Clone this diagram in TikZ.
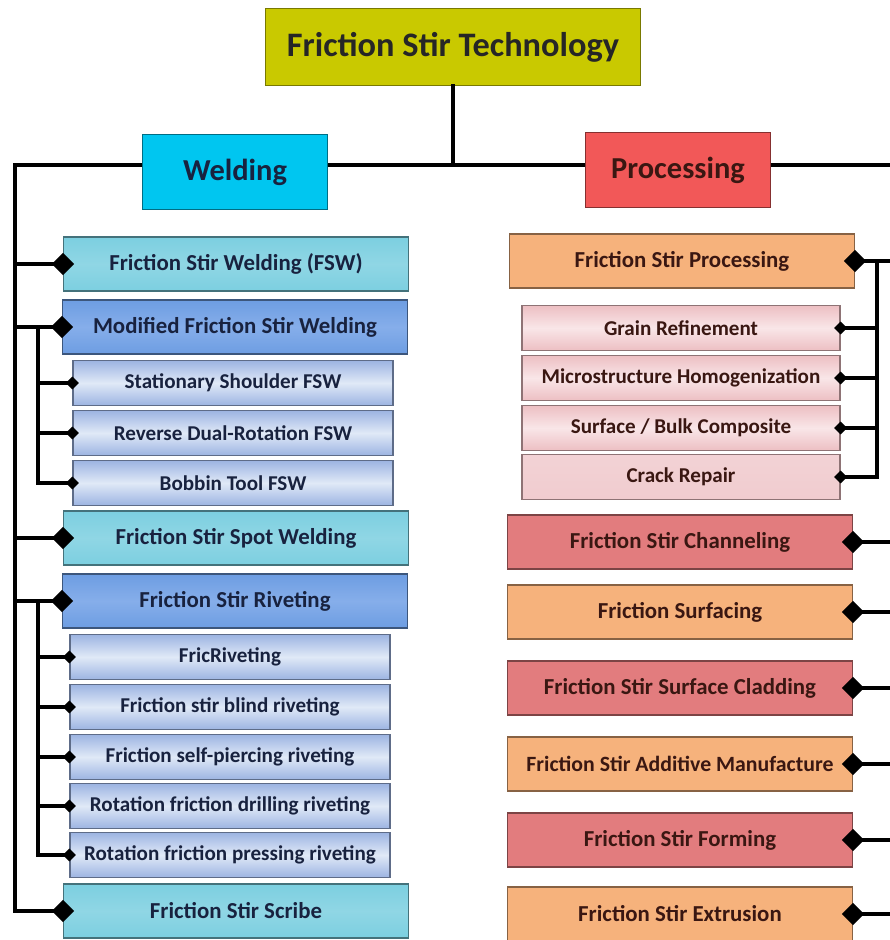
\documentclass[tikz,border=0pt]{standalone}
\usepackage{fontspec}
\setmainfont{Carlito}
\usepackage{tikz}
\usetikzlibrary{positioning,arrows.meta,shadows}

\definecolor{titlefill}{HTML}{C9C900}
\definecolor{weldfill}{HTML}{00C6F0}
\definecolor{procfill}{HTML}{F25858}
\definecolor{cyanfill}{HTML}{7CCFE0}
\definecolor{bluefill}{HTML}{6D9DE2}
\definecolor{bluelight}{HTML}{86AEEA}
\definecolor{subblue}{HTML}{9DB4E2}
\definecolor{subbluelight}{HTML}{E0E9F7}
\definecolor{orangefill}{HTML}{F6B27C}
\definecolor{redfill}{HTML}{E27C7E}
\definecolor{pinkfill}{HTML}{EDBFC3}
\definecolor{pinklight}{HTML}{F9E6E8}
\definecolor{navytext}{HTML}{18223F}
\definecolor{browntext}{HTML}{3A1712}

\begin{document}
\begin{tikzpicture}[x=0.03cm,y=-0.03cm,font=\bfseries]
\tikzstyle{box}=[rectangle,draw,line width=1pt,inner sep=0pt,align=center,drop shadow={shadow xshift=.8pt,shadow yshift=-.8pt,opacity=.35}]
\tikzstyle{top box}=[box,fill=titlefill,draw=titlefill!60!black,text=black!85,minimum width=11.25cm,minimum height=2.3cm,font=\bfseries\fontsize{29.3}{32}\selectfont]
\tikzstyle{head box}=[box,minimum width=5.55cm,minimum height=2.25cm,font=\bfseries\fontsize{26}{28}\selectfont]
\tikzstyle{item}=[box,minimum width=10.35cm,minimum height=1.62cm,font=\bfseries\fontsize{19.5}{22}\selectfont]
\tikzstyle{sub item}=[box,minimum width=9.6cm,minimum height=1.35cm,font=\bfseries\fontsize{18}{20}\selectfont]
\tikzstyle{cyan item}=[item,top color=cyanfill,bottom color=cyanfill,middle color=cyanfill!85!white,draw=cyanfill!55!black,text=navytext]
\tikzstyle{blue item}=[item,top color=bluefill,bottom color=bluefill,middle color=bluelight,draw=bluefill!55!black,text=navytext]
\tikzstyle{blue sub}=[sub item,top color=subblue,bottom color=subblue,middle color=subbluelight,draw=subblue!60!black,text=navytext]
\tikzstyle{orange item}=[item,fill=orangefill,draw=orangefill!55!black,text=browntext]
\tikzstyle{red item}=[item,fill=redfill,draw=redfill!55!black,text=browntext]
\tikzstyle{pink sub}=[sub item,minimum width=9.54cm,top color=pinkfill,bottom color=pinkfill,middle color=pinklight,draw=pinkfill!60!black,text=browntext]
\tikzstyle{bar}=[line width=3.2pt,line cap=rect]
\tikzstyle{link}=[line width=3.2pt,-{Diamond[length=19pt,width=19pt]},shorten >=-9.5pt]
\tikzstyle{sublink}=[line width=3.2pt,-{Diamond[length=11pt,width=11pt]},shorten >=-5.5pt]
\useasboundingbox (0,0) rectangle (890,940);
\coordinate (lspine) at (15,165);
\coordinate (rspine) at (890,165);
\coordinate (lsub) at (38,165);
\coordinate (rsub) at (877,165);
\draw[bar] (rspine) -- (lspine);
% main boxes
\node[top box] (title) at (453,47) {Friction Stir Technology};
\node[head box,fill=weldfill,draw=weldfill!55!black,text=navytext] (weld) at (235,172) {Welding};
\node[head box,fill=procfill,draw=procfill!55!black,text=browntext] (proc) at (678,170) {Processing};
% welding side
\node[cyan item] (fsw) at (236,264) {Friction Stir Welding (FSW)};
\node[blue item] (mfsw) at (235,327) {Modified Friction Stir Welding};
\node[blue sub] (ssfsw) at (233,383) {Stationary Shoulder FSW};
\node[blue sub] (rdrfsw) at (233,433) {Reverse Dual-Rotation FSW};
\node[blue sub] (btfsw) at (233,483) {Bobbin Tool FSW};
\node[cyan item] (fssw) at (236,538) {Friction Stir Spot Welding};
\node[blue item] (fsr) at (235,601) {Friction Stir Riveting};
\node[blue sub] (fricr) at (230,657) {FricRiveting};
\node[blue sub] (fsbr) at (230,707) {Friction stir blind riveting};
\node[blue sub] (fspr) at (230,757) {Friction self-piercing riveting};
\node[blue sub] (rfdr) at (230,806) {Rotation friction drilling riveting};
\node[blue sub] (rfpr) at (230,855) {Rotation friction pressing riveting};
\node[cyan item] (fss) at (236,911) {Friction Stir Scribe};
% processing side
\node[orange item] (fsp) at (682,261) {Friction Stir Processing};
\node[pink sub] (gr) at (681,328) {Grain Refinement};
\node[pink sub] (mh) at (681,378) {Microstructure Homogenization};
\node[pink sub] (sbc) at (681,428) {Surface / Bulk Composite};
\node[pink sub,middle color=pinklight!60!white,top color=pinkfill!70!white,bottom color=pinkfill!80!white] (cr) at (681,477) {Crack Repair};
\node[red item] (fsc) at (680,542) {Friction Stir Channeling};
\node[orange item] (fsurf) at (680,612) {Friction Surfacing};
\node[red item] (fscl) at (680,688) {Friction Stir Surface Cladding};
\node[orange item,font=\bfseries\fontsize{18.6}{22}\selectfont] (fsam) at (680,764) {Friction Stir Additive Manufacture};
\node[red item] (fsf) at (680,840) {Friction Stir Forming};
\node[orange item] (fse) at (680,914) {Friction Stir Extrusion};
% connectors
\draw[bar] (title.south) -- (title.south |- lspine);
\draw[bar] (lspine) -- (lspine |- fss.west);
\draw[bar] (lsub |- mfsw.west) -- (lsub |- btfsw.west);
\draw[bar] (lsub |- fsr.west) -- (lsub |- rfpr.west);
\draw[bar] (rsub |- fsp.east) -- (rsub |- cr.east);
\draw[link] (lspine |- fsw.west) -- (fsw.west);
\draw[link] (lspine |- mfsw.west) -- (mfsw.west);
\draw[sublink] (lsub |- ssfsw.west) -- (ssfsw.west);
\draw[sublink] (lsub |- rdrfsw.west) -- (rdrfsw.west);
\draw[sublink] (lsub |- btfsw.west) -- (btfsw.west);
\draw[link] (lspine |- fssw.west) -- (fssw.west);
\draw[link] (lspine |- fsr.west) -- (fsr.west);
\draw[sublink] (lsub |- fricr.west) -- (fricr.west);
\draw[sublink] (lsub |- fsbr.west) -- (fsbr.west);
\draw[sublink] (lsub |- fspr.west) -- (fspr.west);
\draw[sublink] (lsub |- rfdr.west) -- (rfdr.west);
\draw[sublink] (lsub |- rfpr.west) -- (rfpr.west);
\draw[link] (lspine |- fss.west) -- (fss.west);
\draw[link] (rspine |- fsp.east) -- (fsp.east);
\draw[sublink] (rsub |- gr.east) -- (gr.east);
\draw[sublink] (rsub |- mh.east) -- (mh.east);
\draw[sublink] (rsub |- sbc.east) -- (sbc.east);
\draw[sublink] (rsub |- cr.east) -- (cr.east);
\draw[link] (rspine |- fsc.east) -- (fsc.east);
\draw[link] (rspine |- fsurf.east) -- (fsurf.east);
\draw[link] (rspine |- fscl.east) -- (fscl.east);
\draw[link] (rspine |- fsam.east) -- (fsam.east);
\draw[link] (rspine |- fsf.east) -- (fsf.east);
\draw[link] (rspine |- fse.east) -- (fse.east);
\end{tikzpicture}
\end{document}
